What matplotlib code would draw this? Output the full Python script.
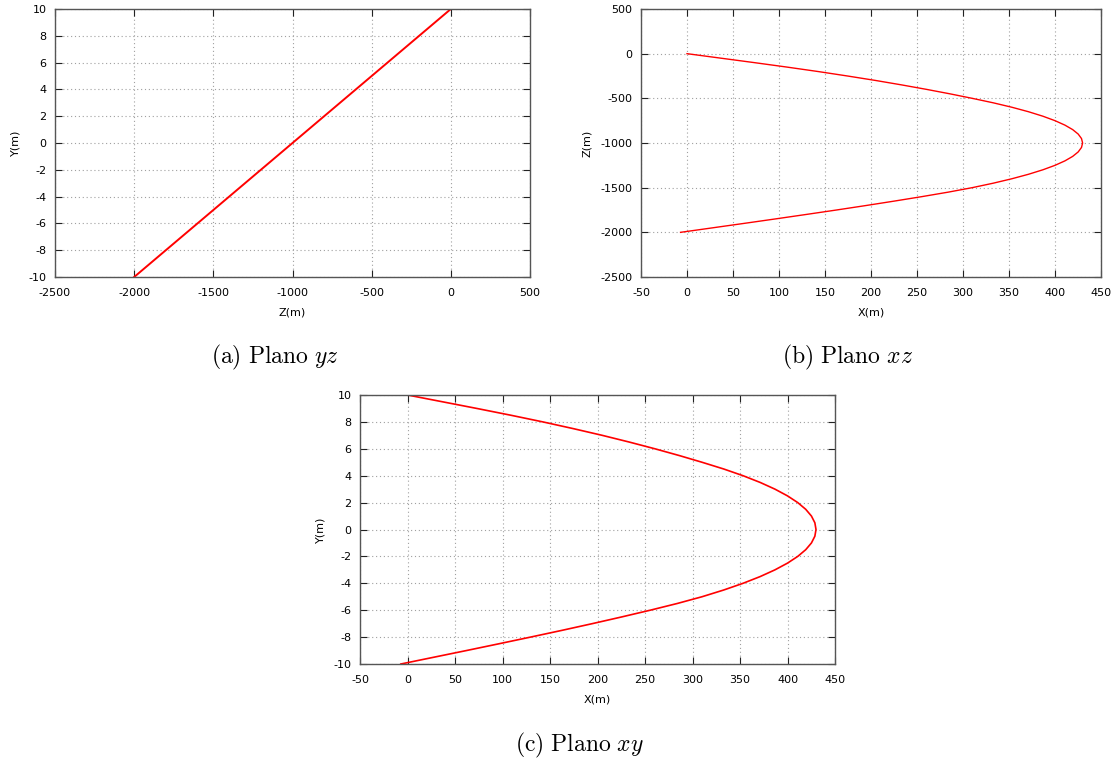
import matplotlib
matplotlib.use("Agg")
import matplotlib.pyplot as plt

# Trajectory readings (sampled along the path every 50 m of Z)
z_vals = [0, -50, -100, -150, -200, -250, -300, -350, -400, -450,
          -500, -550, -600, -650, -700, -750, -800, -850, -900, -950,
          -1000, -1050, -1100, -1150, -1200, -1250, -1300, -1350, -1400, -1450,
          -1500, -1550, -1600, -1650, -1700, -1750, -1800, -1850, -1900, -1950,
          -2000]
x_vals = [0, 36.5, 73, 108.5, 142.5, 174.5, 205, 233.5, 260.5, 286,
          310, 332.8, 353.2, 371.2, 386.8, 400, 410.8, 419.2, 425.2, 428.8,
          430, 428.8, 425.2, 419.2, 410.8, 400, 386.8, 371.2, 353.2, 332.8,
          310, 284, 255.5, 225.5, 194.5, 162.5, 129.5, 96, 62, 27.5,
          -7]
y_vals = [10, 9.5, 9, 8.5, 8, 7.5, 7, 6.5, 6, 5.5,
          5, 4.5, 4, 3.5, 3, 2.5, 2, 1.5, 1, 0.5,
          0, -0.5, -1, -1.5, -2, -2.5, -3, -3.5, -4, -4.5,
          -5, -5.5, -6, -6.5, -7, -7.5, -8, -8.5, -9, -9.5,
          -10]

captions = ["(a) Plano", "(b) Plano", "(c) Plano"]
caption_vars = ["yz", "xz", "xy"]

plt.rcParams['mathtext.fontset'] = 'cm'
plt.rcParams['axes.unicode_minus'] = False
W, H = 1115, 764
fig = plt.figure(figsize=(W / 100, H / 100), dpi=100)

def make_ax(l, r, t, b):
    return fig.add_axes([l / W, 1 - b / H, (r - l) / W, (b - t) / H])

def style(ax, xlim, ylim, xticks, yticks, xlabel, ylabel):
    ax.set_xlim(*xlim)
    ax.set_ylim(*ylim)
    ax.set_xticks(xticks)
    ax.set_yticks(yticks)
    ax.tick_params(direction='in', length=5, width=0.8, labelsize=8,
                   top=True, right=True, color='#222222', pad=6)
    ax.tick_params(axis='x', pad=8)
    ax.grid(True, linestyle=(0, (1, 2.5)), color='#a0a0a0', linewidth=0.8)
    for s in ax.spines.values():
        s.set_color('#555555')
        s.set_linewidth(1.0)
    ax.set_xlabel(xlabel, fontsize=8, labelpad=7)
    ax.set_ylabel(ylabel, fontsize=8, labelpad=6)

# (a) Plano yz
ax1 = make_ax(55, 530, 9, 277)
ax1.plot(z_vals, y_vals, color='red', linewidth=1.4)
style(ax1, (-2500, 500), (-10, 10), list(range(-2500, 501, 500)),
      list(range(-10, 11, 2)), 'Z(m)', 'Y(m)')

# (b) Plano xz
ax2 = make_ax(641, 1101, 9, 277)
ax2.plot(x_vals, z_vals, color='red', linewidth=1.0)
style(ax2, (-50, 450), (-2500, 500), list(range(-50, 451, 50)),
      list(range(-2500, 501, 500)), 'X(m)', 'Z(m)')

# (c) Plano xy
ax3 = make_ax(360, 835, 395, 664)
ax3.plot(x_vals, y_vals, color='red', linewidth=1.2)
style(ax3, (-50, 450), (-10, 10), list(range(-50, 451, 50)),
      list(range(-10, 11, 2)), 'X(m)', 'Y(m)')

cap_pos = [(275, 357), (848, 357), (580, 745)]
for (cx, cy), c, v in zip(cap_pos, captions, caption_vars):
    txt = r"$\mathrm{" + c.replace(" ", r"\ ") + r"}\ " + v + r"$"
    fig.text(cx / W, 1 - cy / H, txt, fontsize=17, ha='center', va='center')

fig.savefig("out.png", dpi=100)
